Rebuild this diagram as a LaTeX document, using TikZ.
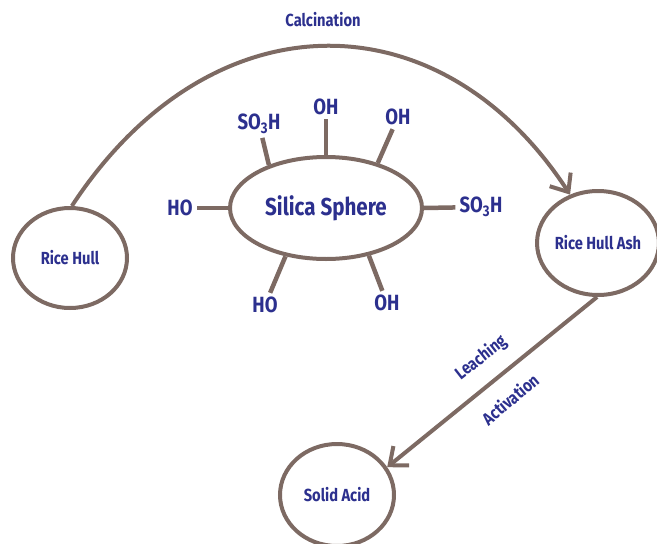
\documentclass[tikz,border=0pt]{standalone}
\usepackage{fontspec}
\setmainfont{Fira Sans}[FakeStretch=0.84]
\usetikzlibrary{arrows.meta,shapes.geometric}
\definecolor{linebrown}{RGB}{125,106,99}
\definecolor{textblue}{RGB}{44,48,142}

\begin{document}
\begin{tikzpicture}[x=1pt, y=-1pt, font=\bfseries, text=textblue]
    \tikzset{ stage/.style={ellipse, draw=linebrown, line width=4pt, fill=white, inner sep=0pt,
                font=\bfseries\fontsize{17.5}{17.5}\selectfont},
              group/.style={inner sep=4pt, font=\bfseries\fontsize{22}{22}\selectfont},
              bond/.style={draw=linebrown, line width=4.5pt},
              flow/.style={draw=linebrown, line width=4pt, -{Straight Barb[length=15pt, width=25pt]}},
              steplabel/.style={inner sep=1pt, font=\bfseries\fontsize{17.5}{17.5}\selectfont} }
    \useasboundingbox (0,0) rectangle (657,544);

    \node[stage, minimum width=114pt, minimum height=100pt] (hull) at (70,258) {Rice Hull};
    \node[stage, minimum width=110pt, minimum height=104pt] (ash) at (598,243) {Rice Hull Ash};
    \node[stage, minimum width=114pt, minimum height=102pt] (acid) at (337,495) {Solid Acid};
    \node[stage, minimum width=192pt, minimum height=102pt,
          font=\bfseries\fontsize{24.5}{24.5}\selectfont] (silica) at (326,208) {Silica Sphere};

    \node[group] (g1) at (259,124) {SO\textsubscript{3}H};
    \node[group] (g2) at (326,107) {OH};
    \node[group] (g3) at (398,117) {OH};
    \node[group] (g4) at (481,207) {SO\textsubscript{3}H};
    \node[group] (g5) at (387,303) {OH};
    \node[group] (g6) at (265,305) {HO};
    \node[group] (g7) at (180,208) {HO};

    \draw[bond] (silica.143) -- (g1);
    \draw[bond] (silica.90)  -- (g2);
    \draw[bond] (silica.41)  -- (g3);
    \draw[bond] (silica.0)   -- (g4);
    \draw[bond] (silica.-48) -- (g5);
    \draw[bond] (silica.230) -- (g6);
    \draw[bond] (silica.180) -- (g7);

    \draw[flow] (hull.88) .. controls (210,-5) and (440,-5) .. (ash.120);
    \draw[flow] (ash.-91) -- (acid.29);

    \node[steplabel] (calc) at (323,20) {Calcination};
    \node[steplabel, rotate=38] (leach) at (481,358) {Leaching};
    \node[steplabel, rotate=40] (activ) at (510,399) {Activation};
  \end{tikzpicture}
\end{document}
